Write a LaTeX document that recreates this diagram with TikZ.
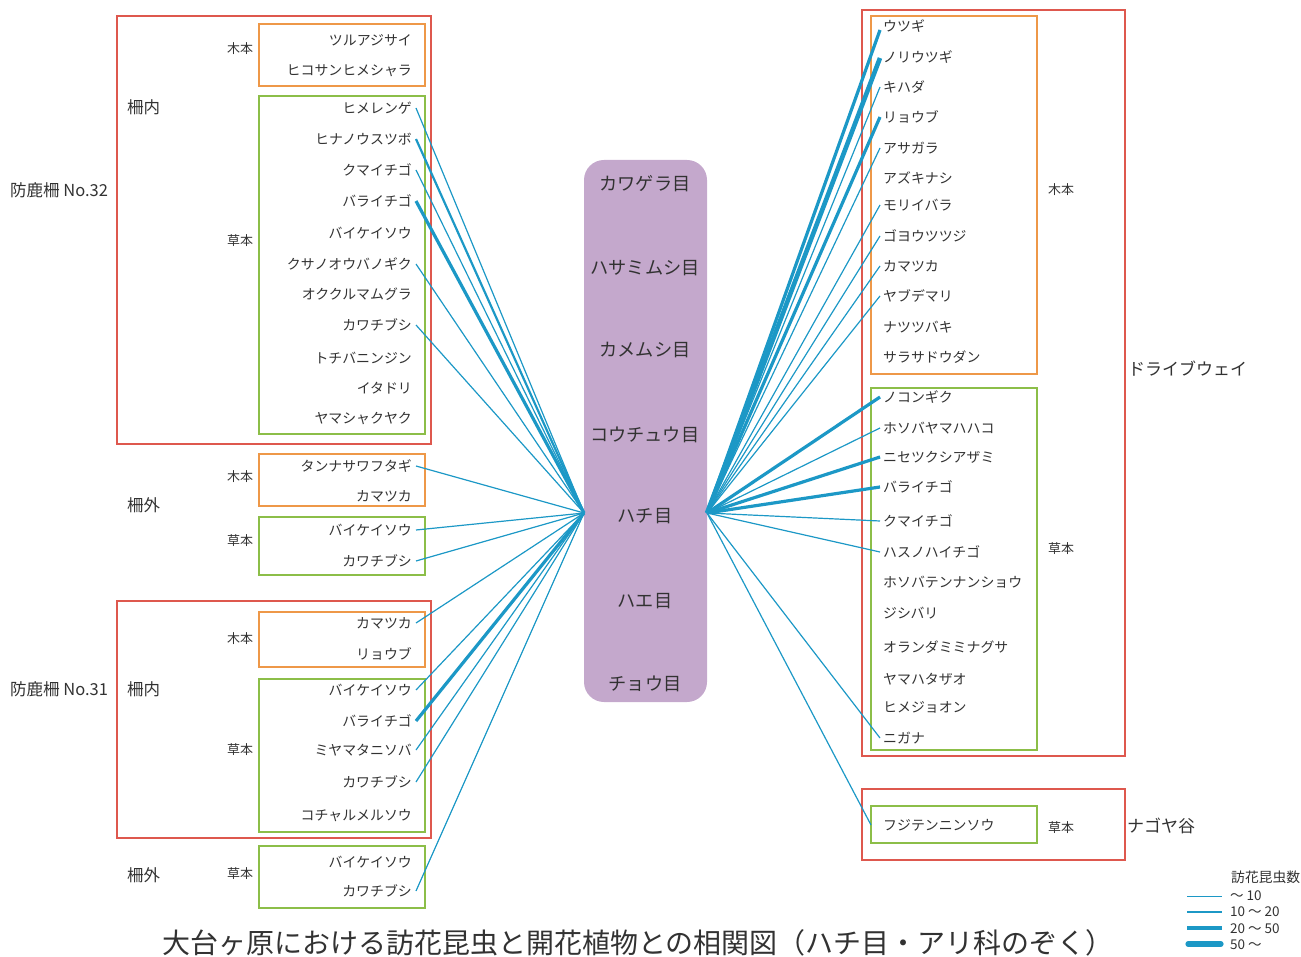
\documentclass[tikz,border=0pt]{standalone}
\usepackage{fontspec}
\setmainfont{Noto Sans CJK JP}
\definecolor{txt}{RGB}{50,50,50}
\definecolor{redc}{RGB}{222,88,78}
\definecolor{orc}{RGB}{238,152,72}
\definecolor{grc}{RGB}{140,190,72}
\definecolor{purc}{RGB}{196,168,204}
\definecolor{linec}{RGB}{28,152,198}
\begin{document}
\begin{tikzpicture}[x=1pt,y=-1pt,
  every node/.style={text=txt},
  plantL/.style={anchor=east, inner xsep=4pt, inner ysep=1pt, font=\fontsize{13.9}{15}\selectfont},
  plantR/.style={anchor=west, inner xsep=3pt, inner ysep=1pt, font=\fontsize{13.9}{15}\selectfont},
  lab/.style={anchor=west, inner sep=0pt, font=\fontsize{13}{14}\selectfont},
  biglab/.style={anchor=west, inner sep=0pt, font=\fontsize{16.5}{18}\selectfont},
  ordlab/.style={inner sep=0pt, font=\fontsize{18.2}{20}\selectfont},
  redbox/.style={draw=redc, line width=2.3pt},
  orbox/.style={draw=orc, line width=2.3pt},
  grbox/.style={draw=grc, line width=2.3pt},
  lka/.style={draw=linec, line width=1.2pt},
  lkb/.style={draw=linec, line width=2.2pt},
  lkc/.style={draw=linec, line width=3.2pt},
  lkd/.style={draw=linec, line width=4.6pt},
  legtxt/.style={anchor=west, inner sep=0pt, font=\fontsize{13.5}{14}\selectfont}
]
\useasboundingbox (0,0) rectangle (1301,957);

% ---------- centre ----------
\node[fill=purc, rounded corners=20pt, minimum width=123pt, minimum height=542pt, inner sep=0pt] (order) at (645.5,431) {};
\node[ordlab] (o1) at (645,184) {カワゲラ目};
\node[ordlab] (o2) at (645,268) {ハサミムシ目};
\node[ordlab] (o3) at (645,350) {カメムシ目};
\node[ordlab] (o4) at (645,435) {コウチュウ目};
\node[ordlab] (o5) at (645,516) {ハチ目};
\node[ordlab] (o6) at (645,601) {ハエ目};
\node[ordlab] (o7) at (645,684) {チョウ目};
\coordinate (hubL) at (584,513);
\coordinate (hubR) at (707,513);

% ---------- left boxes ----------
\draw[redbox] (117,16) rectangle (431,444);
\draw[orbox] (259,24) rectangle (425,86);
\draw[grbox] (259,96) rectangle (425,434);
\draw[orbox] (259,454) rectangle (425,506);
\draw[grbox] (259,517) rectangle (425,575);
\draw[redbox] (117,601) rectangle (431,838);
\draw[orbox] (259,612) rectangle (425,667);
\draw[grbox] (259,679) rectangle (425,832);
\draw[grbox] (259,846) rectangle (425,908);

\node[biglab] (n32) at (10,190) {防鹿柵 No.32};
\node[biglab] (in32) at (127,107) {柵内};
\node[lab] (w32) at (227,49) {木本};
\node[lab] (h32) at (227,241) {草本};
\node[biglab] (out32) at (127,505) {柵外};
\node[lab] (w32o) at (227,477) {木本};
\node[lab] (h32o) at (227,541) {草本};
\node[biglab] (n31) at (10,689) {防鹿柵 No.31};
\node[biglab] (in31) at (127,689) {柵内};
\node[lab] (w31) at (227,639) {木本};
\node[lab] (h31) at (227,750) {草本};
\node[biglab] (out31) at (127,875) {柵外};
\node[lab] (h31o) at (227,874) {草本};

\node[plantL] (a1) at (416,40) {ツルアジサイ};
\node[plantL] (a2) at (416,71) {ヒコサンヒメシャラ};
\node[plantL] (b1) at (416,108) {ヒメレンゲ};
\node[plantL] (b2) at (416,139) {ヒナノウスツボ};
\node[plantL] (b3) at (416,170) {クマイチゴ};
\node[plantL] (b4) at (416,201) {バライチゴ};
\node[plantL] (b5) at (416,233) {バイケイソウ};
\node[plantL] (b6) at (416,264) {クサノオウバノギク};
\node[plantL] (b7) at (416,294) {オククルマムグラ};
\node[plantL] (b8) at (416,325) {カワチブシ};
\node[plantL] (b9) at (416,358) {トチバニンジン};
\node[plantL] (b10) at (416,388) {イタドリ};
\node[plantL] (b11) at (416,419) {ヤマシャクヤク};
\node[plantL] (c1) at (416,466) {タンナサワフタギ};
\node[plantL] (c2) at (416,496) {カマツカ};
\node[plantL] (d1) at (416,530) {バイケイソウ};
\node[plantL] (d2) at (416,561) {カワチブシ};
\node[plantL] (e1) at (416,623) {カマツカ};
\node[plantL] (e2) at (416,654) {リョウブ};
\node[plantL] (f1) at (416,690) {バイケイソウ};
\node[plantL] (f2) at (416,721) {バライチゴ};
\node[plantL] (f3) at (416,750) {ミヤマタニソバ};
\node[plantL] (f4) at (416,782) {カワチブシ};
\node[plantL] (f5) at (416,816) {コチャルメルソウ};
\node[plantL] (g1) at (416,862) {バイケイソウ};
\node[plantL] (g2) at (416,891) {カワチブシ};

% ---------- right boxes ----------
\draw[redbox] (862,10) rectangle (1125,756);
\draw[orbox] (871,16) rectangle (1037,374);
\draw[grbox] (871,388) rectangle (1037,750);
\draw[redbox] (862,789) rectangle (1125,860);
\draw[grbox] (871,806) rectangle (1037,843);

\node[lab] (wr) at (1048,190) {木本};
\node[lab] (hr) at (1048,549) {草本};
\node[lab] (hn) at (1048,828) {草本};
\node[biglab, font=\fontsize{17}{18}\selectfont] (dw) at (1128,369) {ドライブウェイ};
\node[biglab, font=\fontsize{17}{18}\selectfont] (ng) at (1127,826) {ナゴヤ谷};

\node[plantR] (r1) at (880,26) {ウツギ};
\node[plantR] (r2) at (880,57) {ノリウツギ};
\node[plantR] (r3) at (880,87) {キハダ};
\node[plantR] (r4) at (880,117) {リョウブ};
\node[plantR] (r5) at (880,148) {アサガラ};
\node[plantR] (r6) at (880,178) {アズキナシ};
\node[plantR] (r7) at (880,205) {モリイバラ};
\node[plantR] (r8) at (880,236) {ゴヨウツツジ};
\node[plantR] (r9) at (880,266) {カマツカ};
\node[plantR] (r10) at (880,296) {ヤブデマリ};
\node[plantR] (r11) at (880,327) {ナツツバキ};
\node[plantR] (r12) at (880,357) {サラサドウダン};
\node[plantR] (s1) at (880,397) {ノコンギク};
\node[plantR] (s2) at (880,428) {ホソバヤマハハコ};
\node[plantR] (s3) at (880,457) {ニセツクシアザミ};
\node[plantR] (s4) at (880,487) {バライチゴ};
\node[plantR] (s5) at (880,521) {クマイチゴ};
\node[plantR] (s6) at (880,552) {ハスノハイチゴ};
\node[plantR] (s7) at (880,582) {ホソバテンナンショウ};
\node[plantR] (s8) at (880,613) {ジシバリ};
\node[plantR] (s9) at (880,647) {オランダミミナグサ};
\node[plantR] (s10) at (880,679) {ヤマハタザオ};
\node[plantR] (s11) at (880,707) {ヒメジョオン};
\node[plantR] (s12) at (880,738) {ニガナ};
\node[plantR] (t1) at (880,825) {フジテンニンソウ};

% ---------- connectors left ----------
\draw[lka] (b1.east) -- (hubL);
\draw[lkb] (b2.east) -- (hubL);
\draw[lka] (b3.east) -- (hubL);
\draw[lkc] (b4.east) -- (hubL);
\draw[lka] (b6.east) -- (hubL);
\draw[lka] (b8.east) -- (hubL);
\draw[lka] (c1.east) -- (hubL);
\draw[lka] (d1.east) -- (hubL);
\draw[lka] (d2.east) -- (hubL);
\draw[lka] (e1.east) -- (hubL);
\draw[lka] (f1.east) -- (hubL);
\draw[lkc] (f2.east) -- (hubL);
\draw[lka] (f3.east) -- (hubL);
\draw[lka] (f4.east) -- (hubL);
\draw[lka] (g2.east) -- (hubL);

% ---------- connectors right ----------
\draw[lkc] (hubR) -- ([yshift=-4pt]r1.west);
\draw[lkd] (hubR) -- ([yshift=-1pt]r2.west);
\draw[lka] (hubR) -- (r3.west);
\draw[lkc] (hubR) -- (r4.west);
\draw[lka] (hubR) -- (r5.west);
\draw[lka] (hubR) -- (r7.west);
\draw[lka] (hubR) -- (r8.west);
\draw[lka] (hubR) -- (r9.west);
\draw[lka] (hubR) -- (r10.west);
\draw[lkc] (hubR) -- (s1.west);
\draw[lka] (hubR) -- (s2.west);
\draw[lkc] (hubR) -- (s3.west);
\draw[lkc] (hubR) -- (s4.west);
\draw[lka] (hubR) -- (s5.west);
\draw[lka] (hubR) -- (s6.west);
\draw[lka] (hubR) -- (s12.west);
\draw[lka] (hubR) -- ([xshift=-9pt]t1.west);

% ---------- legend ----------
\node[legtxt, font=\fontsize{13.8}{14}\selectfont] (lt) at (1231,877) {訪花昆虫数};
\draw[draw=linec, line width=1pt] (1187,896) -- (1222,896);
\draw[draw=linec, line width=2.2pt] (1187,912) -- (1222,912);
\draw[draw=linec, line width=3.8pt] (1187,928) -- (1222,928);
\draw[draw=linec, line width=5.2pt, line cap=round] (1188,944) -- (1221,944);
\node[legtxt] (l1) at (1230,896) {～ 10};
\node[legtxt] (l2) at (1230,912) {10 ～ 20};
\node[legtxt] (l3) at (1230,929) {20 ～ 50};
\node[legtxt] (l4) at (1230,945) {50 ～};

% ---------- caption ----------
\node[inner sep=0pt, font=\fontsize{28}{30}\selectfont] (cap) at (638,943) {大台ヶ原における訪花昆虫と開花植物との相関図（ハチ目・アリ科のぞく）};
\end{tikzpicture}
\end{document}
